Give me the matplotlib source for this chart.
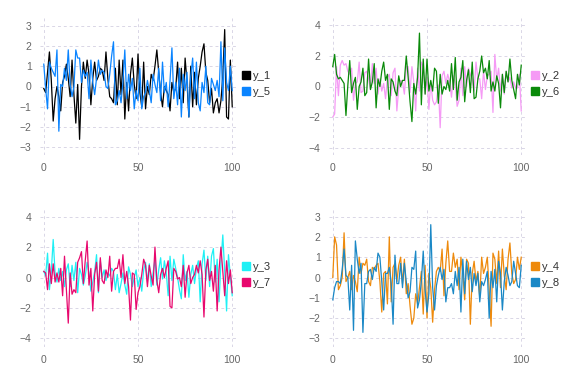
import matplotlib
matplotlib.use("Agg")
import matplotlib.pyplot as plt
from matplotlib.lines import Line2D

plt.rcParams['font.family'] = ['Liberation Sans', 'DejaVu Sans']

x = list(range(101))

y_1 = [-0.1, -0.3, 0.7, 1.7, 0.3, -1.7, -0.6, 0.0, -0.5, -1.2,
       0.2, 0.5, 1.1, 0.4, -0.5, 1.3, -0.4, -1.8, 0.1, -2.6,
       0.0, 1.2, 0.4, 1.3, 0.6, -0.9, 0.4, 1.2, 0.3, 0.5,
       0.9, 0.8, 0.3, 1.7, 0.4, -0.5, -0.6, -0.8, 0.9, -0.9,
       1.3, -0.4, 1.3, -1.6, 0.2, -1.2, 0.6, 1.4, 0.1, -0.6,
       1.6, -0.3, -1.0, 1.2, -1.1, 0.0, -0.4, 0.6, 0.3, 1.0,
       1.8, 0.7, -0.3, -1.0, 0.0, -0.2, -0.4, -1.2, 0.2, -0.3,
       -0.1, 1.2, -0.6, 0.9, -0.8, 1.4, 0.2, -1.5, 1.0, -1.0,
       0.7, -0.9, 0.4, 1.0, 1.7, 2.1, 0.7, 0.3, -0.8, -0.1,
       -1.3, -0.8, -0.6, -1.3, -0.7, 0.5, 2.8, -1.5, -1.6, 1.3,
       -1.0]
y_5 = [1.1, -0.1, -1.1, 1.2, 0.9, 0.7, 0.5, 1.8, -2.2, 0.1,
       0.0, 0.9, 0.3, 1.8, 0.1, -0.5, 0.0, 1.8, 1.4, 1.4,
       0.2, 0.8, 0.5, 0.7, -0.6, 1.3, 0.2, -0.4, 0.4, 1.3,
       0.6, 0.8, 0.7, 0.0, -0.1, 0.6, 1.5, 2.2, -0.9, -0.7,
       -0.2, -0.8, 0.2, 1.8, -0.6, 0.6, -0.2, 0.4, -1.1, -0.2,
       -0.7, 0.9, -1.1, -0.5, -0.3, 0.3, -0.2, -0.8, 0.6, 0.1,
       -0.3, 0.9, -0.7, 1.2, -0.3, 0.2, -1.0, 0.3, 1.9, -0.6,
       0.2, -0.9, 0.9, -1.5, 0.6, -0.2, 0.7, -1.5, 0.5, 1.4,
       -0.6, 1.2, -0.8, -1.2, 0.2, -0.3, 1.0, -0.8, -0.9, 0.4,
       0.1, -0.2, 0.3, -0.5, 2.2, -0.7, 1.9, 0.2, -0.2, 1.0,
       -0.2]
y_2 = [-2.0, -1.8, 1.3, -0.6, 1.4, 1.7, 1.4, 1.5, 1.0, 0.8,
       1.2, -0.9, 0.2, 0.3, 1.6, -0.4, -0.3, 0.9, 1.0, 0.5,
       -0.2, 1.5, 0.2, 1.2, -0.5, 0.5, -0.3, 0.2, -0.8, 0.6,
       0.8, -0.6, 0.9, 1.2, -1.6, -0.1, 0.4, 0.3, -0.5, 1.3,
       1.3, -0.4, 1.3, 0.3, -1.6, 1.2, -0.3, 1.6, 1.3, -0.5,
       0.6, -1.5, 0.3, -0.9, -1.2, -1.0, 0.1, -2.7, 0.7, 1.0,
       0.2, 0.8, 0.3, -0.7, 0.7, 0.2, -1.3, -0.9, 1.2, -0.6,
       1.3, 0.0, 1.2, 0.8, 0.5, -0.3, 1.6, 0.5, 0.5, -0.8,
       1.0, -0.2, 0.7, 0.8, 1.0, -1.7, 2.1, 0.4, 1.2, -0.3,
       0.8, -0.5, 1.0, 0.3, 0.6, -0.1, 0.3, -0.1, -0.1, 0.8,
       -1.6]
y_6 = [1.3, 2.1, 0.8, 0.5, 0.6, 0.4, 0.2, -1.9, 0.1, 1.7,
       -0.4, 0.2, 0.6, -1.5, 0.0, 0.3, 1.2, -0.6, -0.4, 1.8,
       -0.2, 0.3, 1.5, -1.4, 0.5, 0.0, 1.0, 1.6, 0.4, 0.8,
       -1.5, 0.5, 0.3, -0.3, -0.6, 0.7, 0.0, 0.4, 0.4, 2.0,
       0.6, -1.0, -2.3, 0.2, -0.5, 0.6, 3.5, -1.2, 1.8, -0.5,
       1.8, -0.3, 0.4, -0.3, 1.2, 1.0, -1.1, 0.8, -0.5, 0.0,
       -0.2, 0.4, -0.3, 1.5, -0.2, 1.9, -0.9, 0.3, 0.6, 1.7,
       -1.0, 0.4, 1.1, -0.4, 1.6, -0.8, -0.7, 0.5, 1.0, 2.0,
       0.9, 1.2, 0.5, 1.7, -0.3, 0.3, -0.3, 0.7, 0.2, -1.4,
       0.8, -0.4, 1.0, 0.3, 1.8, 0.4, -0.2, -0.8, 0.8, 0.1,
       1.4]
y_3 = [0.4, 0.1, 1.6, -0.8, 0.4, 2.5, 0.3, -0.3, 0.6, -0.2,
       0.4, -0.6, 0.5, 0.9, -0.6, 0.8, -0.2, 1.0, -1.0, 0.6,
       0.2, -0.5, 0.1, 1.0, 0.3, -0.9, -0.3, 0.4, 1.5, -1.0,
       1.1, 0.0, 0.5, -0.2, 0.3, 0.1, 0.6, 0.4, -0.8, 0.2,
       -1.0, -0.4, 0.3, -0.5, -1.1, 0.7, 0.2, -0.6, 0.0, 0.5,
       -0.6, 0.0, -0.9, 0.5, 1.0, -0.3, 0.9, -0.6, 0.3, 1.2,
       -0.5, 0.5, 1.3, -0.1, 1.1, 0.3, -1.2, 1.4, -0.2, 1.2,
       0.6, 0.0, -0.8, -1.4, 1.5, -0.2, 0.4, -1.3, 0.2, 0.8,
       -0.4, 0.6, 1.1, -1.6, 0.9, 1.8, -0.2, 1.4, -0.6, 1.4,
       1.9, -0.3, 1.2, -1.6, 1.0, 2.8, 0.4, -2.2, 1.5, 0.1,
       -1.2]
y_7 = [0.4, 0.3, -0.8, 0.9, -0.4, 0.9, -0.3, 0.3, -0.3, 0.6,
       -1.2, 1.4, -0.8, -3.0, 0.3, -1.1, -0.8, -1.0, 1.0, 1.3,
       1.7, -0.4, 1.1, 2.4, -0.5, 0.6, -2.2, 0.2, 1.0, -0.9,
       1.3, -0.2, -0.4, 0.5, 0.0, 1.4, -0.9, 0.4, 0.6, 0.6,
       1.2, 0.0, 1.5, -0.4, 0.4, -0.6, -2.8, 0.3, 0.2, -2.1,
       -1.0, -0.6, 0.2, 1.2, 0.8, -0.6, 0.8, 0.1, -0.5, 2.0,
       -0.2, -1.0, 0.2, 0.6, 0.0, 0.6, 1.1, -1.9, -2.0, 0.6,
       0.4, -0.1, 0.0, -0.6, 0.8, -1.3, 0.3, 0.8, -0.4, 0.0,
       0.2, 0.8, 0.3, 1.1, 0.2, -2.6, 0.5, 1.2, -0.2, 0.4,
       -0.9, 0.8, -2.2, 0.5, 2.0, 0.4, -1.2, 1.1, -0.4, 0.5,
       -1.0]
y_4 = [0.0, 2.0, 1.6, -0.6, -0.4, 0.0, 2.2, -0.2, 0.0, 0.3,
       -0.6, 0.1, -0.2, -0.7, 1.0, 0.2, 0.7, 0.6, 0.9, -0.2,
       -0.4, 0.5, 0.4, 0.6, 0.7, -0.2, -1.7, 0.2, 0.3, -1.3,
       2.0, -1.2, 0.5, 0.7, -0.2, 0.6, 1.0, -0.3, 0.9, -0.8,
       -0.3, -1.4, -2.3, -2.0, -0.8, -1.3, -0.5, 0.3, -1.8, 0.6,
       -2.0, 0.2, -0.5, -2.2, -0.6, 0.3, 0.5, 0.3, 1.4, -0.9,
       0.7, 1.8, 0.3, 0.3, 1.2, 0.5, 0.9, -0.6, 1.0, 0.2,
       -1.1, 0.9, 0.7, -2.3, 0.2, 0.8, -0.2, 0.3, -1.0, 1.0,
       0.2, 0.5, 1.0, -0.6, -2.4, 1.2, 0.9, -0.3, 1.3, -0.5,
       1.4, 0.1, -0.6, 0.9, 1.7, 0.2, -0.3, -0.1, 1.0, 0.4,
       1.0]
y_8 = [-1.1, -0.5, -0.2, -0.2, -0.3, 0.4, 1.4, 0.1, 0.0, -1.6,
       0.6, -2.6, 1.8, 0.9, 0.2, 0.7, -2.7, -0.3, -0.3, 0.3,
       0.4, -0.1, 0.5, 0.3, 1.2, 1.0, -0.2, -1.6, 0.2, 0.2,
       0.5, -0.3, -2.3, 1.1, -0.3, -0.3, 0.7, -0.5, 0.7, -0.2,
       -1.0, -0.7, 0.5, 0.4, 1.3, -1.5, -1.1, -0.2, 1.3, -0.6,
       -1.7, -0.8, 2.6, -0.5, -1.6, -0.4, 0.1, 0.5, -0.1, 0.4,
       -1.2, -0.5, -0.5, -0.3, -0.8, 0.3, -0.4, 0.5, -1.7, 0.9,
       -0.8, 0.8, -0.1, 0.5, -0.7, 0.2, -0.4, 0.2, -1.2, -0.2,
       -0.4, -0.1, 0.3, -2.0, 0.3, -0.5, 0.4, -1.2, 0.8, 0.2,
       -1.6, -0.2, 0.5, 0.1, -0.4, -0.2, 0.8, 0.2, -0.4, -0.5,
       0.6]

panels = [
    (("y_1", y_1, "#000000"), ("y_5", y_5, "#0a84ff"), [-3, -2, -1, 0, 1, 2, 3], 3.37),
    (("y_2", y_2, "#f59af5"), ("y_6", y_6, "#0a8a0a"), [-4, -2, 0, 2, 4], 4.49),
    (("y_3", y_3, "#1ef0f5"), ("y_7", y_7, "#e8086e"), [-4, -2, 0, 2, 4], 4.57),
    (("y_4", y_4, "#ee8a0c"), ("y_8", y_8, "#1a88c6"), [-3, -2, -1, 0, 1, 2, 3], 3.42),
]

W, H = 576, 384
fig = plt.figure(figsize=(W / 100, H / 100), dpi=100)
boxes = [(40, 18, 196, 137), (329, 18, 196, 137), (40, 208, 196, 139), (329, 208, 196, 139)]
grid_color = "#d9d6e6"
tick_color = "#666666"

for (s1, s2, yticks, ylim), (l, t, w, h) in zip(panels, boxes):
    ax = fig.add_axes([l / W, 1 - (t + h) / H, w / W, h / H])
    for name, vals, col in (s1, s2):
        ax.plot(x, vals, color=col, lw=0.9, label=name)
    ax.set_xlim(-2, 102)
    ax.set_ylim(-ylim, ylim)
    ax.set_xticks([0, 50, 100])
    ax.set_yticks(yticks)
    for sp in ax.spines.values():
        sp.set_visible(False)
    ax.grid(True, color=grid_color, linestyle=(0, (3, 3)), linewidth=0.7)
    ax.set_axisbelow(True)
    ax.tick_params(length=0, labelsize=7.5, labelcolor=tick_color, pad=6)
    handles = [Line2D([], [], marker="s", linestyle="none", color=c, markersize=6)
               for _, _, c in (s1, s2)]
    leg = ax.legend(handles, [s1[0], s2[0]], loc="center left", bbox_to_anchor=(1.0, 0.52),
                    frameon=False, fontsize=8, handletextpad=0.2, labelspacing=0.55,
                    borderaxespad=0.1, handlelength=0.8)
    for txt in leg.get_texts():
        txt.set_color("#333333")

fig.savefig("out.png", dpi=100)
